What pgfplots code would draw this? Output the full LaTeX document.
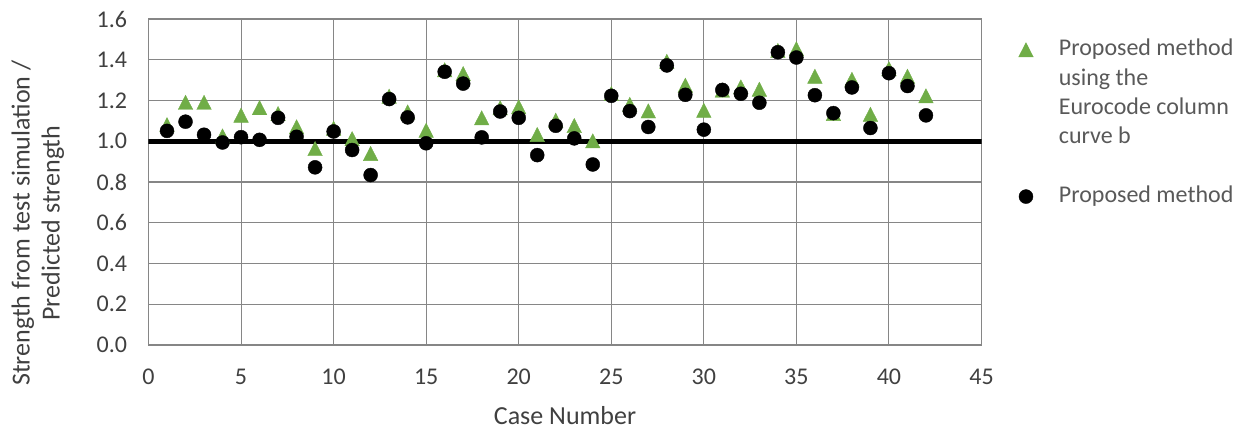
\documentclass[border=0pt]{standalone}
\usepackage{pgfplots}
\pgfplotsset{compat=1.18}
\usepackage{pgfplotstable}
\usepackage{fontspec}
\setmainfont{Carlito}
\definecolor{ticktext}{HTML}{404040}
\definecolor{legtext}{HTML}{595959}
\definecolor{gridc}{HTML}{868686}
\definecolor{xlgreen}{HTML}{70AD47}

\pgfplotstableread{
x y
1 1.080
2 1.190
3 1.190
4 1.025
5 1.127
6 1.164
7 1.135
8 1.070
9 0.963
10 1.063
11 1.012
12 0.939
13 1.220
14 1.143
15 1.053
16 1.350
17 1.331
18 1.114
19 1.163
20 1.168
21 1.032
22 1.102
23 1.076
24 1.001
25 1.233
26 1.180
27 1.148
28 1.391
29 1.274
30 1.151
31 1.250
32 1.266
33 1.254
34 1.445
35 1.453
36 1.318
37 1.135
38 1.303
39 1.131
40 1.355
41 1.318
42 1.222
}\eurocode

\pgfplotstableread{
x y
1 1.051
2 1.096
3 1.032
4 0.994
5 1.020
6 1.007
7 1.115
8 1.022
9 0.872
10 1.048
11 0.957
12 0.834
13 1.207
14 1.117
15 0.990
16 1.341
17 1.283
18 1.019
19 1.146
20 1.115
21 0.932
22 1.076
23 1.014
24 0.886
25 1.223
26 1.148
27 1.070
28 1.372
29 1.228
30 1.057
31 1.252
32 1.233
33 1.189
34 1.437
35 1.411
36 1.226
37 1.138
38 1.264
39 1.065
40 1.334
41 1.271
42 1.127
}\proposed

\begin{document}
\begin{tikzpicture}
\useasboundingbox (-74.25pt,-41.5pt) rectangle (547.25pt,172.5pt);
\begin{axis}[
  at={(0,0)}, anchor=south west,
  scale only axis,
  width=416.5pt, height=163pt,
  xmin=0, xmax=45, ymin=0, ymax=1.6,
  xtick={0,5,...,45},
  ytick={0,0.2,...,1.6},
  y tick label style={/pgf/number format/fixed, /pgf/number format/fixed zerofill, /pgf/number format/precision=1},
  /pgf/number format/assume math mode=true,
  tick label style={font=\fontsize{12}{14}\selectfont, text=ticktext},
  yticklabel style={inner xsep=0pt, xshift=-10.5pt},
  xticklabel style={inner ysep=0pt, yshift=-12pt},
  major tick length=0pt,
  grid=major,
  major grid style={draw=gridc, line width=0.55pt},
  axis line style={draw=gridc, line width=0.55pt},
  xlabel={Case Number},
  xlabel style={at={(axis description cs:0.5,0)}, anchor=base, yshift=-39.5pt, font=\fontsize{13}{15}\selectfont, text=ticktext},
  ylabel={Strength from test simulation /\\Predicted strength},
  ylabel style={at={(axis description cs:-0.133,0.374)}, anchor=center, align=center, font=\fontsize{13}{15}\selectfont, text=ticktext},
  legend cell align=left,
  legend style={
    at={(axis description cs:1.0329,0.9499)}, anchor=north west,
    draw=none, fill=none, inner sep=0pt, outer sep=0pt,
    row sep=0pt, column sep=12.8pt,
    font=\fontsize{12}{14}\selectfont, text=legtext,
    nodes={inner xsep=0pt, inner ysep=1.33pt, text height=9pt, text depth=3pt},
  },
]
\addplot[black, line width=2.3pt, forget plot] coordinates {(0,1) (45,1)};
\addplot[color=xlgreen, only marks, mark=triangle*, mark size=4.2pt,
  mark options={draw=xlgreen, fill=xlgreen, line width=0.2pt, yshift=-1.1pt, yscale=1.13}] table[x=x,y=y] {\eurocode};
\addlegendentry{Proposed method}
\addlegendimage{empty legend}\addlegendentry{using the}
\addlegendimage{empty legend}\addlegendentry{Eurocode column}
\addlegendimage{empty legend}\addlegendentry{curve b}
\addlegendimage{empty legend}\addlegendentry{\mbox{}}
\addplot[color=black, only marks, mark=*, mark size=3.5pt,
  mark options={draw=black, fill=black, line width=0.2pt}] table[x=x,y=y] {\proposed};
\addlegendentry{Proposed method}
\end{axis}
\end{tikzpicture}
\end{document}
